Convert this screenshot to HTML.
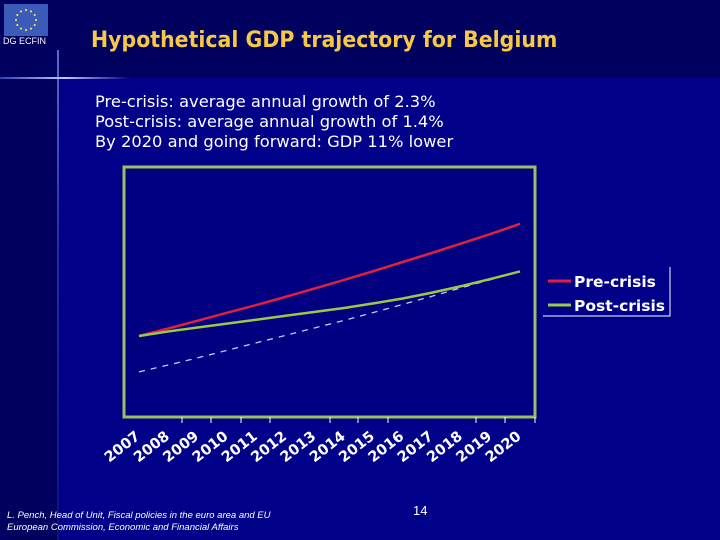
<!DOCTYPE html>
<html><head><meta charset="utf-8"><style>
body{margin:0;width:720px;height:540px;overflow:hidden;background:#00005e;font-family:"Liberation Sans",sans-serif;position:relative}
.abs{position:absolute}
</style></head><body>
<div class="abs" style="left:58px;top:78px;width:662px;height:462px;background:#000089"></div>
<div class="abs" style="left:57px;top:50px;width:2px;height:490px;background:linear-gradient(#5a6ad0,#2a2aa0 40%,#101080)"></div>
<div class="abs" style="left:0;top:77px;width:130px;height:2px;background:linear-gradient(90deg,#3040b0,#c0c8ff 50%,#000089)"></div>
<svg class="abs" style="left:4px;top:4px" width="44" height="32"><rect width="44" height="32" fill="#3a5cb8"/><g fill="#e8d860" id="stars"></g></svg>
<div class="abs" style="left:3px;top:36px;font-size:9px;color:#fff">DG ECFIN</div>
<div class="abs" style="left:91px;top:26px;font-family:'DejaVu Sans',sans-serif;font-size:20.5px;font-weight:bold;color:#f7c844;transform:scaleY(1.1);transform-origin:left top">Hypothetical GDP trajectory for Belgium</div>
<div class="abs" style="left:95px;top:92px;font-family:'DejaVu Sans',sans-serif;font-size:16.3px;line-height:20px;color:#fff">Pre-crisis: average annual growth of 2.3%<br>Post-crisis: average annual growth of 1.4%<br>By 2020 and going forward: GDP 11% lower</div>
<svg class="abs" id="chart" style="left:0;top:0" width="720" height="540"></svg>
<div class="abs" style="left:7px;top:510px;font-size:9.5px;font-style:italic;color:#fff;line-height:12px">L. Pench, Head of Unit, Fiscal policies in the euro area and EU<br>European Commission, Economic and Financial Affairs</div>
<div class="abs" style="left:413px;top:503px;font-size:13px;color:#fff">14</div>
<script>
const years=["2007","2008","2009","2010","2011","2012","2013","2014","2015","2016","2017","2018","2019","2020"];
const preCrisis=[100,102.3,104.7,107.1,109.5,112.0,114.6,117.2,119.9,122.7,125.5,128.4,131.3,134.4];
const postCrisis=[100,101.4,102.6,103.8,105.0,106.2,107.4,108.6,110.0,111.5,113.3,115.3,117.5,119.8];
const trend=[89.0,91.1,93.3,95.6,97.9,100.2,102.5,104.8,107.2,109.7,112.2,114.8,117.3,119.8];
const NS="http://www.w3.org/2000/svg";
const svg=document.getElementById('chart');
function X(i){return 139+i*(520-139)/13;}
function Y(v){return 336-(v-100)*3.26;}
function mk(t,a){const e=document.createElementNS(NS,t);for(const k in a)e.setAttribute(k,a[k]);svg.appendChild(e);return e;}
const st=document.getElementById('stars');
for(let k=0;k<12;k++){const a=k*Math.PI/6;const c=document.createElementNS(NS,'circle');c.setAttribute('cx',22+10*Math.cos(a));c.setAttribute('cy',16+10*Math.sin(a));c.setAttribute('r',1.1);st.appendChild(c);}
const box=mk('rect',{x:124,y:167,width:411,height:250,fill:'#000080',stroke:'#9cc060','stroke-width':3});


const tickXs=[182,211,241,270,330,358,388,476,505,535];
tickXs.forEach(tx=>{const t=mk('line',{x1:tx,x2:tx,y1:417,y2:423,stroke:'#fff','stroke-width':1});

});
function line(vals,col,w,dash,name){const p=mk('polyline',{points:vals.map((v,i)=>X(i)+','+Y(v)).join(' '),fill:'none',stroke:col,'stroke-width':w});
if(dash)p.setAttribute('stroke-dasharray',dash);

}
line(trend,'#c8c8f0',1.3,'6,6','trend-dashed-line');
line(preCrisis,'#e0203c',2.5,null,'pre-crisis-line');
line(postCrisis,'#9cc848',2.5,null,'post-crisis-line');
years.forEach((y,i)=>{const t=mk('text',{x:X(i)+2,y:438,fill:'#fff','font-size':14.5,'font-weight':'bold','font-family':'DejaVu Sans, sans-serif','text-anchor':'end',transform:`rotate(-38 ${X(i)+2} 438)`});t.textContent=y;

});
const lg=mk('path',{d:'M670 267 L670 316 L543 316',fill:'none',stroke:'#fff','stroke-width':1});


[['Pre-crisis','#e0203c',281],['Post-crisis','#9cc848',305]].forEach(([n,c,yy])=>{
const l=mk('line',{x1:548,x2:571,y1:yy,y2:yy,stroke:c,'stroke-width':3});


const t=mk('text',{x:574,y:yy+6,fill:'#fff','font-size':15.5,'font-weight':'bold','font-family':'DejaVu Sans, sans-serif'});t.textContent=n;

});
</script>
</body></html>
